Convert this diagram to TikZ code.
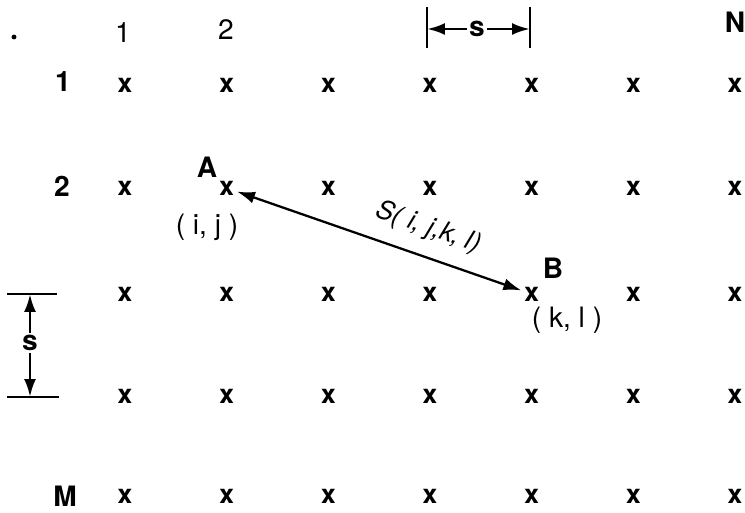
\documentclass[tikz,border=0pt]{standalone}
\usepackage{fontspec}
\setmainfont{TeX Gyre Heros}
\usetikzlibrary{arrows.meta,calc,positioning}

\begin{document}
\begin{tikzpicture}[x=0.02cm,y=-0.02cm,>={Latex[length=3.6mm,width=2.4mm]},
  pt/.style={font=\fontsize{15}{18}\selectfont\bfseries,inner sep=1.5pt},
  lbl/.style={font=\fontsize{16}{18}\selectfont,inner sep=1pt},
  blbl/.style={font=\fontsize{16}{18}\selectfont\bfseries,inner sep=1pt},
  dim/.style={line width=1.6pt}]
\useasboundingbox (0,0) rectangle (745,513);
% grid of sample points
\foreach \r/\y in {1/85,2/188,3/294,4/396,5/496}
  \foreach \c in {1,...,7}
    \node[pt] (p\r\c) at ({125+(\c-1)*101.67},\y) {x};
% column and row numbers
\fill (14,37) circle (1.4pt);
\node[lbl] (c1) at (123,33) {1};
\node[lbl] (c2) at (226,30) {2};
\node[blbl] (cN) at (735,22) {N};
\node[blbl] (r1) at (63,82) {1};
\node[blbl] (r2) at (62,186) {2};
\node[blbl] (rM) at (65,496) {M};
% the two points
\node[blbl] (A) at (207,167) {A};
\node[lbl] (ij) at (207,227) {( i, j )};
\node[blbl] (B) at (553,268) {B};
\node[lbl] (kl) at (567,320) {( k, l )};
\draw[<->,line width=1.3pt] (p22) -- (p35)
  node[pos=.64,sloped,above=5pt,font=\fontsize{15}{18}\selectfont\itshape] {S( i, j,k, l)};
% spacing s, top
\node[blbl] (ts) at (477,29) {s};
\coordinate (t1) at (427,29);
\coordinate (t2) at (530,29);
\draw[dim] (427,7) -- (427,48);
\draw[dim] (530,7) -- (530,48);
\draw[dim,->] (ts) -- (t1);
\draw[dim,->] (ts) -- (t2);
% spacing s, left
\node[blbl] (ls) at (30,343) {s};
\coordinate (l1) at (30,294);
\coordinate (l2) at (30,397);
\draw[dim] (7,294) -- (57,294);
\draw[dim] (7,397) -- (59,397);
\draw[dim,->] (ls) -- (l1);
\draw[dim,->] (ls) -- (l2);
\end{tikzpicture}
\end{document}
